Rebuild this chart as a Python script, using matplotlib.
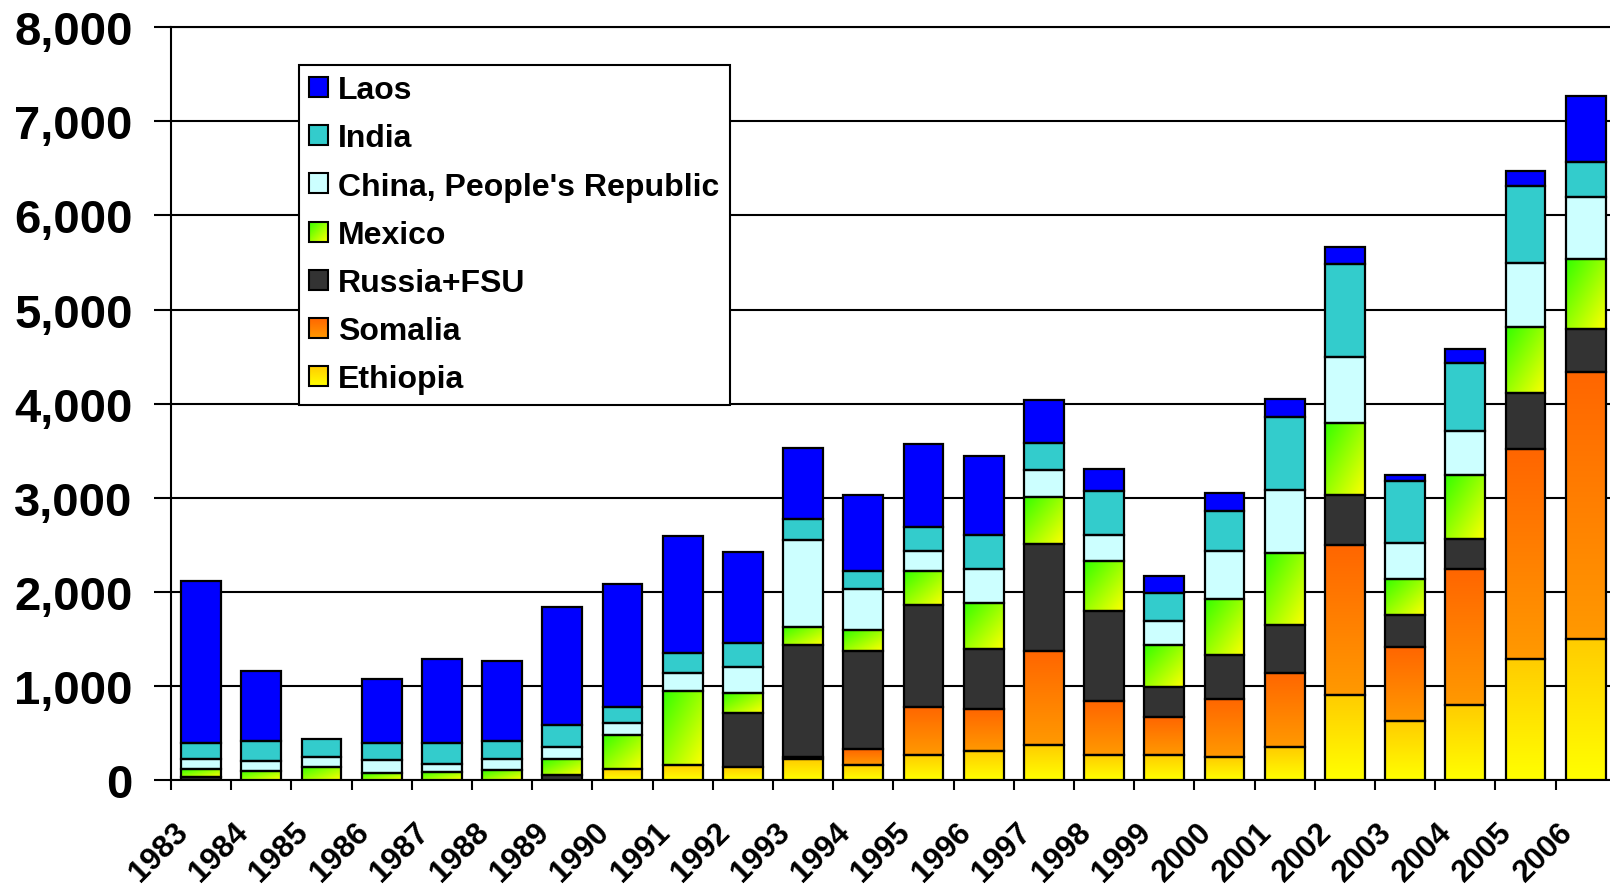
import numpy as np
import matplotlib
matplotlib.use("Agg")
import matplotlib.pyplot as plt
from matplotlib.colors import to_rgb
from matplotlib.legend_handler import HandlerBase
from matplotlib.image import BboxImage
from matplotlib.transforms import Bbox, TransformedBbox, ScaledTranslation
from matplotlib.patches import Rectangle

plt.rcParams['font.family'] = ['Liberation Sans', 'DejaVu Sans']
plt.rcParams['font.weight'] = 'bold'

# ---------------- data ----------------
years = [str(y) for y in range(1983, 2007)]
ethiopia = [0, 0, 0, 0, 0, 0, 0, 117, 160, 138, 223, 160, 266, 312, 372, 266, 266, 241, 348, 904, 630, 798, 1288, 1500]
somalia = [0, 0, 0, 0, 0, 0, 0, 0, 0, 0, 25, 170, 514, 443, 997, 571, 401, 621, 790, 1596, 783, 1442, 2226, 2841]
russia = [30, 0, 0, 0, 0, 0, 57, 0, 0, 575, 1188, 1042, 1082, 639, 1134, 964, 326, 468, 514, 529, 342, 323, 601, 457]
mexico = [85, 99, 140, 74, 89, 103, 166, 365, 783, 216, 195, 217, 361, 489, 504, 525, 443, 596, 763, 769, 384, 677, 697, 736]
china = [105, 103, 108, 135, 78, 124, 131, 124, 195, 273, 915, 443, 213, 362, 284, 280, 259, 507, 663, 697, 380, 467, 678, 658]
india = [175, 209, 192, 188, 230, 188, 231, 171, 213, 259, 231, 191, 255, 361, 294, 468, 294, 425, 780, 991, 659, 721, 827, 380]
laos = [1720, 749, 0, 681, 894, 851, 1259, 1301, 1238, 957, 748, 809, 876, 834, 450, 235, 174, 195, 195, 177, 67, 154, 154, 702]

y_ticks = [0, 1000, 2000, 3000, 4000, 5000, 6000, 7000, 8000]
y_tick_labels = ['0', '1,000', '2,000', '3,000', '4,000', '5,000', '6,000', '7,000', '8,000']


# ---------------- gradient helpers ----------------
def vgrad(top, bottom, n=64):
    t = np.linspace(0, 1, n)[:, None]
    c = (1 - t) * np.array(to_rgb(top)) + t * np.array(to_rgb(bottom))
    return np.repeat(c[:, None, :], 2, axis=1)


def dgrad(tl, br, n=64):
    u = np.linspace(0, 1, n)
    U, V = np.meshgrid(u, u)
    t = (U + V) / 2
    return (1 - t)[..., None] * np.array(to_rgb(tl)) + t[..., None] * np.array(to_rgb(br))


grad_ethiopia = vgrad('#FFCC00', '#FFFF00')
grad_somalia = vgrad('#FF6600', '#FF9900')
grad_mexico = dgrad('#33FF00', '#FFFF00')

# stack order bottom -> top
series = [
    ('Ethiopia', ethiopia, '#FFE600', grad_ethiopia),
    ('Somalia', somalia, '#FF8000', grad_somalia),
    ('Russia+FSU', russia, '#333333', None),
    ('Mexico', mexico, '#99FF00', grad_mexico),
    ("China, People's Republic", china, '#CCFFFF', None),
    ('India', india, '#33CCCC', None),
    ('Laos', laos, '#0000FF', None),
]

fig = plt.figure(figsize=(16.1, 8.87), dpi=100)
ax = fig.add_axes([171 / 1610, 106 / 887, 1444.8 / 1610, 752.7 / 887])

x = np.arange(len(years))
bw = 0.664
bottom = np.zeros(len(years))
for name, vals, base, grad in series:
    vals = np.array(vals, dtype=float)
    bars = ax.bar(x, vals, bottom=bottom, width=bw, color=base, linewidth=0, zorder=3)
    if grad is not None:
        for rect, v in zip(bars, vals):
            if v <= 0:
                continue
            x0, y0 = rect.get_x(), rect.get_y()
            ax.imshow(grad, extent=[x0, x0 + rect.get_width(), y0, y0 + rect.get_height()],
                      aspect='auto', interpolation='bilinear', origin='upper', zorder=3.1)
    lw = np.where(vals > 0, 1.6, 0)
    ax.bar(x, vals, bottom=bottom, width=bw, fill=False, edgecolor='black', linewidth=lw, zorder=3.2)
    bottom += vals

ax.set_xlim(-0.5, len(years) - 0.5)
ax.set_ylim(0, 8000)

# grid / spines
ax.set_axisbelow(True)
ax.yaxis.grid(True, color='black', linewidth=1.5)
for s in ['left', 'bottom', 'top']:
    ax.spines[s].set_color('black')
    ax.spines[s].set_linewidth(1.5)
ax.spines['right'].set_visible(False)

ax.set_yticks(y_ticks)
ax.set_yticklabels(y_tick_labels, fontsize=34, fontweight='bold')
ax.tick_params(axis='y', length=12, width=1.5, pad=15.5, direction='out')

ax.set_xticks(np.arange(-0.5, len(years), 1.0))
ax.set_xticklabels([])
ax.tick_params(axis='x', which='major', length=7.5, width=1.5, direction='out')
ax.set_xticks(x, minor=True)
ax.set_xticklabels(years, minor=True, rotation=45, ha='right', va='top',
                   fontsize=22.5, fontweight='bold', rotation_mode='default')
ax.tick_params(axis='x', which='minor', length=0, pad=26)
off = ScaledTranslation(-7 / 100, 0, fig.dpi_scale_trans)
for lab in ax.get_xticklabels(minor=True):
    lab.set_transform(lab.get_transform() + off)


# ---------------- legend ----------------
class GradHandler(HandlerBase):
    def __init__(self, arr):
        super().__init__()
        self.arr = arr

    def create_artists(self, legend, orig_handle, xdescent, ydescent, width, height, fontsize, trans):
        bb = TransformedBbox(Bbox.from_bounds(-xdescent, -ydescent, width, height), trans)
        img = BboxImage(bb, interpolation='bilinear')
        img.set_data(self.arr)
        edge = Rectangle((-xdescent, -ydescent), width, height, facecolor='none',
                         edgecolor='black', linewidth=1.5, transform=trans)
        return [img, edge]


handles = []
labels = []
hmap = {}
for name, vals, base, grad in reversed(series):
    h = Rectangle((0, 0), 1, 1, facecolor=base, edgecolor='black', linewidth=1.5)
    handles.append(h)
    labels.append(name)
    if grad is not None:
        hmap[h] = GradHandler(grad)

leg = ax.legend(handles, labels, handler_map=hmap, loc='upper left',
                bbox_to_anchor=(299 / 1610, 1 - 66 / 887), bbox_transform=fig.transFigure,
                borderaxespad=0, frameon=True, fancybox=False, edgecolor='black',
                framealpha=1, prop={'size': 23, 'weight': 'bold'},
                handlelength=0.58, handleheight=0.58, handletextpad=0.33,
                labelspacing=0.57, borderpad=0.32)
leg.get_frame().set_linewidth(1.5)
leg.set_zorder(10)

fig.savefig('out.png', dpi=100)
